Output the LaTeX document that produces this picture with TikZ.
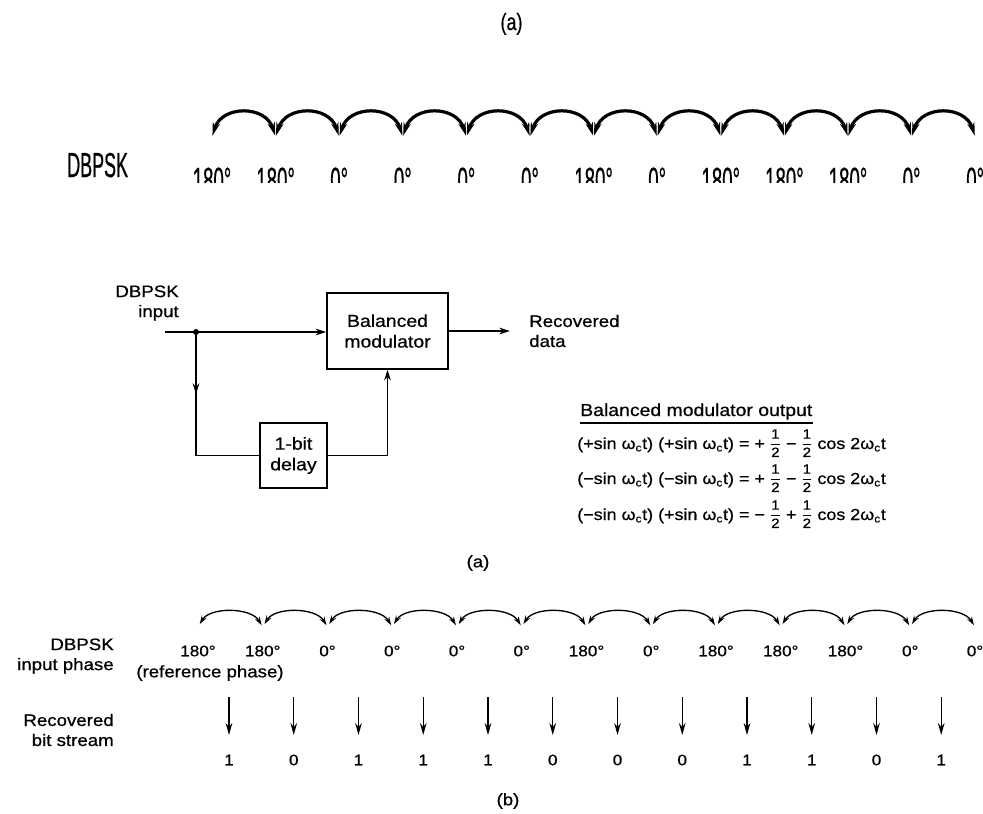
\documentclass[tikz,border=0pt]{standalone}
\usepackage{fontspec}
\usepackage{amsmath}
\setmainfont{Liberation Sans}[FakeStretch=1.12,FakeBold=0.7]
\usetikzlibrary{arrows.meta,decorations.markings}
\newcommand{\hlf}{\raisebox{0.15ex}{\scalebox{0.84}{$\dfrac{\text{1}}{\text{2}}$}}}
\newcommand{\wc}{ω\textsubscript{c}t}
\begin{document}
\begin{tikzpicture}[x=0.75pt,y=-0.75pt,
  txt/.style={font=\fontsize{12.5}{15}\selectfont, inner sep=0pt},
  rowt/.style={font=\fontsize{12}{14}\selectfont, inner sep=0pt},
  phs/.style={font=\fontsize{11.5}{14}\selectfont, inner sep=0pt},
  blk/.style={draw, line width=1.1pt, font=\fontsize{13}{15.5}\selectfont, align=center, inner sep=0pt},
  ln/.style={line width=1.1pt},
  tipb/.style={-{Stealth[length=8pt,width=5pt]}},
  dotnode/.style={circle, fill, inner sep=1.6pt},
  toparc/.style={line width=2.4pt, {Stealth[length=10pt,width=5.5pt]}-{Stealth[length=10pt,width=5.5pt]}, shorten <=1pt, shorten >=1pt},
  botarc/.style={line width=1pt, {Stealth[length=6.5pt,width=4pt]}-{Stealth[length=6.5pt,width=4pt]}, shorten <=2.5pt, shorten >=1.5pt},
  downarr/.style={line width=1.1pt, -{Stealth[length=9pt,width=5pt]}},
  midarrow/.style={decoration={markings, mark=at position 0.32 with {\arrow{Stealth[length=8pt,width=5pt]}}}, postaction=decorate}
]
\useasboundingbox (0,0) rectangle (983,814);

% ---------- top fragment (stretched) ----------
\node[txt, anchor=base] (ta) at (511.5,30) {\scalebox{1}[1.47]{\fontsize{12}{14}\selectfont (a)}};
\node[txt, anchor=base west] (tdb) at (67,177) {\scalebox{1}[2.17]{\fontsize{12}{14}\selectfont DBPSK}};
\foreach \i in {0,...,12}{
  \pgfmathsetmacro\xx{212+63.6*\i}
  \coordinate (tc\i) at (\xx,137);
}
\foreach \i in {0,...,11}{
  \pgfmathtruncatemacro\j{\i+1}
  \draw[toparc] (tc\i) .. controls +(10,-32) and +(-10,-32) .. (tc\j);
}
\begin{scope}
  \clip (0,0) rectangle (983,182);
  \foreach \lab [count=\i from 0] in {180°,180°,0°,0°,0°,0°,180°,0°,180°,180°,180°,0°,0°}{
    \pgfmathsetmacro\xx{212+63.6*\i}
    \node[inner sep=0pt, font=\fontsize{12.5}{14}\selectfont, anchor=base] (tl\i) at (\xx,192) {\scalebox{1}[2.1]{\lab}};
  }
\end{scope}

% ---------- block diagram ----------
\node[txt, anchor=east, align=right] (inlab) at (179,303) {DBPSK\\input};
\coordinate (in) at (165,332);
\node[dotnode] (dot) at (196,332) {};
\node[blk, minimum width=90.75pt, minimum height=57pt] (mod) at (387.5,331) {Balanced\\modulator};
\node[blk, minimum width=50pt, minimum height=49pt] (dly) at (293.5,455.5) {1-bit\\delay};
\coordinate (out) at (510,331);
\node[txt, anchor=west, align=left] (rec) at (529,331) {Recovered\\data};
\draw[ln,tipb] (in) -- (in -| mod.west);
\draw[ln,tipb] (mod.east) -- (out);
\draw[ln,midarrow] (dot) |- (dly.west);
\draw[ln,tipb] (dly.east) -| (mod.south);

% ---------- table ----------
\node[txt, anchor=base west, font=\fontsize{13}{15}\selectfont] (ttl) at (580,416) {Balanced modulator output};
\draw[line width=1.5pt] ([yshift=-2pt]ttl.south west) -- ([yshift=-2pt]ttl.south east);
\node[rowt, anchor=base west] (r1) at (577,449) {(+sin \wc) (+sin \wc) = + \hlf{} − \hlf{} cos 2\wc};
\node[rowt, anchor=base west] (r2) at (577,484) {(−sin \wc) (−sin \wc) = + \hlf{} − \hlf{} cos 2\wc};
\node[rowt, anchor=base west] (r3) at (577,520) {(−sin \wc) (+sin \wc) = − \hlf{} + \hlf{} cos 2\wc};

\node[txt] (capa) at (478,563) {(a)};

% ---------- bottom (b) ----------
\node[txt, anchor=east, align=right] (dbl) at (114,656) {DBPSK\\input phase};
\node[txt, anchor=east, align=right] (rbl) at (114,730) {Recovered\\bit stream};
\foreach \lab [count=\i from 0] in {180°,180°,0°,0°,0°,0°,180°,0°,180°,180°,180°,0°,0°}{
  \pgfmathsetmacro\xx{198+64.75*\i}
  \node[phs] (bl\i) at (\xx,651) {\lab};
  \coordinate (bc\i) at (\xx,627);
}
\foreach \i in {0,...,11}{
  \pgfmathtruncatemacro\j{\i+1}
  \draw[botarc] (bc\i) .. controls +(12,-20) and +(-12,-20) .. (bc\j);
}
\node[txt] (refp) at (210,673) {(reference phase)};
\foreach \b [count=\i from 0] in {1,0,1,1,1,0,0,0,1,1,0,1}{
  \pgfmathsetmacro\xx{229+64.75*\i}
  \coordinate (dt\i) at (\xx,697);
  \coordinate (db\i) at (\xx,735);
  \draw[downarr] (dt\i) -- (db\i);
  \node[phs] (bit\i) at (\xx,760) {\b};
}
\node[txt] (capb) at (508,801) {(b)};
\end{tikzpicture}
\end{document}
